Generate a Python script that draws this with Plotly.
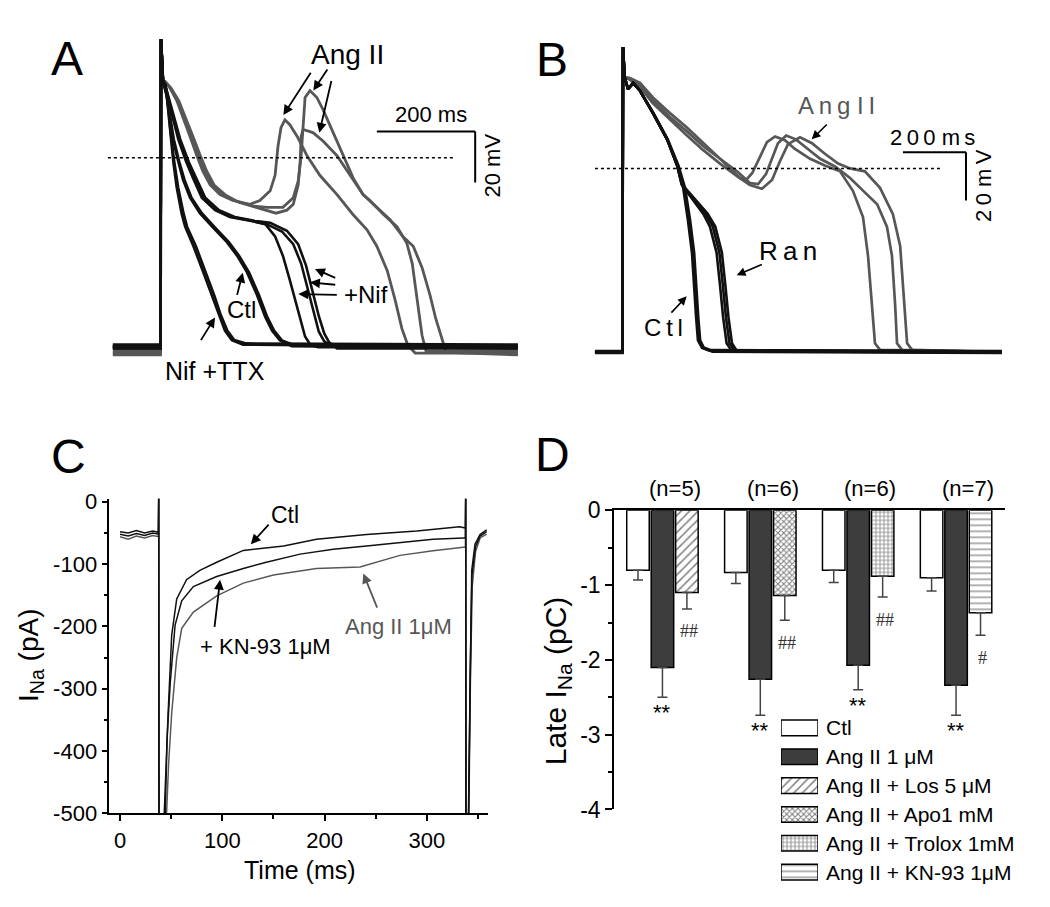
import plotly.graph_objects as go

W, H = 1050, 907
FONT = "Liberation Sans, Arial, Helvetica, sans-serif"
BLACK = "#111111"
GRAY = "#575757"

# ---------------- Panel A : action potentials (time ms, Vm mV) ----------------
a_ttx1_t = [-98, -1, 0, 4, 12, 18, 25, 32, 42, 49, 66, 86, 103, 116, 130, 144, 167, 726]
a_ttx1_v = [-74.5, -74.5, 46.6, 30.2, 23.8, 11.1, -1.6, -11.8, -22.0, -27.1, -34.8, -45.0, -53.9, -61.5, -68.0, -71.7, -73.5, -74.5]
a_ttx2_t = [-98, -1, 0, 4, 13, 19, 27, 35, 46, 53, 71, 91, 108, 121, 135, 149, 173, 726]
a_ttx2_v = [-73.5, -73.5, 46.6, 30.2, 23.8, 11.1, -1.6, -11.8, -22.0, -27.1, -34.8, -45.0, -53.9, -61.5, -68.0, -71.7, -73.0, -73.5]
a_ctl1_t = [-98, -1, 0, 4, 8, 16, 24, 35, 45, 59, 79, 106, 134, 155, 175, 195, 212, 226, 242, 266, 726]
a_ctl1_v = [-75.0, -75.0, 46.6, 30.2, 29.0, 18.7, 7.3, -1.5, -8.8, -15.7, -21.8, -27.5, -33.2, -38.6, -45.1, -53.9, -62.6, -68.0, -71.8, -74.1, -75.0]
a_ctl2_t = [-98, -1, 0, 4, 8, 17, 26, 37, 48, 62, 83, 110, 138, 159, 179, 199, 216, 230, 246, 270, 726]
a_ctl2_v = [-74.0, -74.0, 46.6, 30.2, 29.0, 18.7, 7.3, -1.5, -8.8, -15.7, -21.8, -27.5, -33.2, -38.6, -45.1, -53.9, -62.6, -68.0, -71.8, -73.6, -74.0]
a_nif1_t = [-98, -1, 0, 4, 8, 20, 35, 51, 65, 83, 110, 140, 181, 212, 232, 248, 262, 275, 285, 293, 303, 319, 726]
a_nif1_v = [-74.5, -74.5, 46.6, 30.2, 29.0, 18.7, 7.3, -1.5, -8.0, -15.7, -20.6, -23.3, -24.8, -26.0, -30.9, -38.6, -48.1, -57.7, -65.3, -70.3, -73.3, -74.5, -74.5]
a_nif2_t = [-98, -1, 0, 4, 8, 21, 37, 54, 68, 87, 114, 145, 185, 218, 246, 269, 285, 299, 311, 321, 332, 346, 726]
a_nif2_v = [-74.0, -74.0, 46.6, 30.2, 29.0, 18.7, 7.3, -1.5, -8.0, -15.7, -20.6, -23.3, -24.8, -26.4, -29.0, -34.0, -41.6, -52.0, -61.5, -68.4, -72.2, -74.0, -74.0]
a_nif3_t = [-98, -1, 0, 4, 8, 22, 39, 56, 71, 90, 118, 150, 190, 222, 256, 279, 295, 309, 321, 332, 342, 358, 726]
a_nif3_v = [-75.0, -75.0, 46.6, 30.2, 29.0, 18.7, 7.3, -1.5, -8.0, -15.7, -20.6, -23.3, -24.8, -25.6, -28.7, -34.0, -42.4, -52.7, -62.3, -69.1, -72.6, -75.0, -75.0]
a_ang1_t = [-98, -1, 0, 4, 8, 18, 32, 45, 59, 73, 85, 100, 120, 146, 181, 201, 222, 232, 238, 244, 252, 262, 277, 297, 323, 358, 390, 419, 439, 460, 476, 490, 502, 517, 726]
a_ang1_v = [-76.8, -76.8, 46.6, 30.2, 30.0, 27.5, 22.5, 16.0, 8.4, 0.8, -5.3, -10.7, -14.5, -16.8, -18.3, -16.8, -13.0, -6.9, 4.6, 11.8, 14.9, 13.0, 8.4, 0.8, -6.9, -14.5, -22.2, -28.3, -34.8, -44.3, -55.8, -67.2, -73.7, -76.8, -76.8]
a_ang2_t = [-98, -1, 0, 4, 8, 19, 34, 47, 62, 76, 89, 104, 125, 152, 188, 216, 248, 269, 279, 285, 289, 293, 303, 317, 330, 350, 370, 391, 411, 439, 466, 492, 513, 531, 547, 559, 570, 580, 726]
a_ang2_v = [-77.5, -77.5, 46.6, 30.2, 30.0, 27.5, 22.5, 16.0, 8.4, 0.8, -5.3, -10.7, -14.5, -17.0, -19.0, -19.5, -19.5, -15.7, -9.2, 0.8, 13.8, 23.7, 26.4, 23.7, 18.7, 9.9, 0.8, -8.0, -14.5, -19.5, -24.4, -31.0, -34.8, -43.2, -53.9, -63.4, -70.3, -76.5, -77.5]
a_ang3_t = [-98, -1, 0, 4, 8, 20, 36, 50, 65, 80, 93, 108, 130, 158, 195, 234, 256, 269, 279, 283, 285, 289, 309, 330, 358, 384, 411, 425, 452, 480, 500, 511, 519, 525, 531, 539, 726]
a_ang3_v = [-76.0, -76.0, 46.6, 30.2, 30.0, 27.5, 22.5, 16.0, 8.4, 0.8, -5.3, -10.7, -14.5, -17.5, -19.5, -21.8, -20.6, -18.3, -10.7, -1.5, 8.4, 11.1, 9.9, 6.5, 0.8, -6.9, -14.5, -16.8, -22.2, -27.1, -33.6, -41.6, -51.9, -61.5, -69.9, -76.0, -76.0]

# ---------------- Panel B : action potentials (time ms, Vm mV) ----------------
b_ctl1_t = [-89, -2, 0, 5, 16, 32, 54, 95, 140, 172, 191, 206, 219, 225, 232, 238, 251, 276, 1203]
b_ctl1_v = [-76.4, -76.4, 50.5, 38.0, 33.0, 35.5, 32.3, 23.0, 12.1, 1.2, -8.1, -21.4, -35.1, -48.5, -61.8, -71.5, -74.7, -75.8, -76.4]
b_ctl2_t = [-89, -2, 0, 5, 16, 32, 54, 96, 141, 174, 194, 210, 223, 229, 236, 242, 255, 280, 1203]
b_ctl2_v = [-76.0, -76.0, 50.5, 38.0, 33.0, 35.5, 32.3, 23.0, 12.1, 1.2, -8.1, -21.4, -35.1, -48.5, -61.8, -71.5, -74.5, -75.6, -76.0]
b_ctl3_t = [-89, -2, 0, 5, 16, 32, 54, 97, 142, 176, 197, 213, 226, 232, 239, 245, 258, 284, 1203]
b_ctl3_v = [-76.8, -76.8, 50.5, 38.0, 33.0, 35.5, 32.3, 23.0, 12.1, 1.2, -8.1, -21.4, -35.1, -48.5, -61.8, -71.5, -74.9, -76.2, -76.8]
b_ran1_t = [-89, -2, 0, 5, 16, 32, 54, 95, 140, 172, 186, 223, 255, 276, 297, 308, 318, 329, 345, 1203]
b_ran1_v = [-76.4, -76.4, 50.5, 38.0, 33.0, 35.5, 32.3, 23.0, 12.1, 1.2, -6.7, -13.5, -18.9, -24.2, -35.0, -48.5, -62.0, -72.7, -75.8, -76.4]
b_ran2_t = [-89, -2, 0, 5, 16, 32, 54, 95, 140, 172, 187, 228, 262, 285, 306, 317, 327, 338, 354, 1203]
b_ran2_v = [-76.2, -76.2, 50.5, 38.0, 33.0, 35.5, 32.3, 23.0, 12.1, 1.2, -6.7, -13.5, -18.9, -24.2, -35.0, -48.5, -62.0, -72.7, -75.6, -76.2]
b_ran3_t = [-89, -2, 0, 5, 16, 32, 54, 95, 140, 172, 188, 233, 269, 293, 314, 325, 335, 346, 362, 1203]
b_ran3_v = [-76.6, -76.6, 50.5, 38.0, 33.0, 35.5, 32.3, 23.0, 12.1, 1.2, -6.7, -13.5, -18.9, -24.2, -35.0, -48.5, -62.0, -72.7, -76.0, -76.6]
b_ang1_t = [-89, -2, 0, 5, 22, 54, 95, 149, 203, 254, 302, 346, 372, 391, 410, 435, 457, 483, 514, 546, 594, 641, 689, 730, 762, 778, 791, 800, 816, 1203]
b_ang1_v = [-76.4, -76.4, 50.5, 38.0, 37.6, 35.6, 29.5, 23.0, 17.0, 10.9, 4.8, -0.8, -4.0, -4.8, -2.0, 4.8, 10.9, 13.3, 11.7, 8.1, 4.0, 1.2, -1.2, -9.3, -20.2, -36.4, -56.6, -72.7, -75.5, -76.4]
b_ang2_t = [-89, -2, 0, 5, 22, 54, 95, 149, 203, 254, 308, 362, 403, 429, 454, 473, 492, 518, 549, 587, 626, 673, 721, 753, 807, 838, 854, 864, 870, 886, 1203]
b_ang2_v = [-76.4, -76.4, 50.5, 38.0, 37.2, 34.7, 28.3, 21.4, 15.4, 9.3, 4.0, -1.2, -6.1, -6.5, -2.4, 4.0, 10.5, 13.7, 12.1, 8.1, 4.0, 0.8, -4.0, -8.1, -14.9, -24.2, -36.4, -56.6, -72.7, -75.5, -76.4]
b_ang3_t = [-89, -2, 0, 5, 22, 54, 95, 149, 203, 254, 308, 362, 403, 441, 473, 499, 524, 562, 600, 641, 683, 721, 768, 816, 857, 880, 892, 902, 918, 1203]
b_ang3_v = [-76.4, -76.4, 50.5, 38.0, 36.8, 33.9, 27.1, 20.2, 13.7, 7.7, 2.0, -3.2, -6.9, -8.5, -4.8, 3.2, 10.1, 12.9, 10.5, 6.1, 2.0, 0.0, -1.2, -8.1, -19.0, -32.3, -56.6, -72.7, -75.5, -76.4]

# ---------------- Panel C : late INa (time ms, current pA) ----------------
c_ctl_t = [0, 8, 16, 24, 32, 37.5, 37.8, 38.2, 42, 43.2, 47, 50.5, 55.4, 65, 78, 94.5, 120.5, 160, 192, 241, 290, 332, 337.6, 337.9, 338.3, 340, 340.6, 342.1, 343.8, 347, 351.9, 358.4]
c_ctl_v = [-48, -50, -46, -50, -47, -49, 10, -800, -900, -500, -339, -214, -156, -125, -110, -97, -78, -71, -60, -52.5, -47, -40, -42, 10, -800, -900, -500, -266, -110, -68, -52.5, -45]
c_kn_t = [0, 8, 16, 24, 32, 37.5, 37.8, 38.2, 43, 44.2, 46, 49, 53.8, 60.3, 71.7, 94.5, 120.5, 143, 176, 208.5, 241, 273.7, 306, 335.6, 337.6, 337.9, 338.3, 340, 340.8, 342.3, 344, 347.5, 352, 358.4]
c_kn_v = [-52, -55, -51, -54, -50, -52, 10, -800, -900, -500, -380, -292, -198, -159, -136, -120, -107, -97, -84, -76, -71, -65.5, -60, -58, -58, 10, -800, -900, -500, -270, -118, -72, -55, -48]
c_ang_t = [0, 8, 16, 24, 32, 37.5, 37.8, 38.2, 44, 45.5, 47.5, 50.5, 55.4, 60.3, 71.7, 94.5, 120.5, 150, 192, 234.6, 273.7, 306, 335.6, 337.6, 337.9, 338.3, 340.2, 341, 342.5, 344.3, 347.5, 352, 358.4]
c_ang_v = [-56, -60, -55, -58, -54, -56, 10, -800, -900, -500, -420, -339, -250, -203, -177, -151, -130.5, -117.5, -107, -104.5, -86, -78.5, -73, -73, 10, -800, -900, -500, -290, -136, -80, -58, -52]
c_yticks = [0, -100, -200, -300, -400, -500]
c_yticktext = ["0", "-100", "-200", "-300", "-400", "-500"]
c_xticks = [0, 100, 200, 300]

# ---------------- Panel D : late INa charge (pC), mean and SEM ----------------
d_n_labels = ["(n=5)", "(n=6)", "(n=6)", "(n=7)"]
d_ctl_mean = [-0.80, -0.83, -0.80, -0.90]
d_ctl_err = [0.13, 0.15, 0.165, 0.18]
d_ang_mean = [-2.10, -2.26, -2.07, -2.34]
d_ang_err = [0.40, 0.48, 0.33, 0.40]
d_trt_mean = [-1.10, -1.14, -0.88, -1.37]
d_trt_err = [0.22, 0.33, 0.28, 0.30]
d_ang_sig = ["**", "**", "**", "**"]
d_trt_sig = ["##", "##", "##", "#"]
d_legend = ["Ctl", "Ang II 1 \u03bcM", "Ang II + Los 5 \u03bcM", "Ang II + Apo1 mM",
            "Ang II + Trolox 1mM", "Ang II + KN-93 1\u03bcM"]
d_yticks = [0, -1, -2, -3, -4]
d_yticktext = ["0", "-1", "-2", "-3", "-4"]

# styles for the treatment bars (Los, Apo, Trolox, KN-93)
trt_patterns = [dict(shape="/", size=6, solidity=0.25),
                dict(shape="x", size=4, solidity=0.45),
                dict(shape="+", size=4, solidity=0.35),
                dict(shape="-", size=6, solidity=0.2)]

fig = go.Figure()


def add_line(t, v, xa, ya, color, width):
    fig.add_trace(go.Scatter(x=t, y=v, mode="lines", xaxis=xa, yaxis=ya,
                             line=dict(color=color, width=width),
                             hoverinfo="skip", showlegend=False))


# Panel A traces
for t, v in [(a_ang1_t, a_ang1_v), (a_ang2_t, a_ang2_v), (a_ang3_t, a_ang3_v)]:
    add_line(t, v, "x", "y", GRAY, 2.8)
for t, v in [(a_ttx1_t, a_ttx1_v), (a_ttx2_t, a_ttx2_v), (a_ctl1_t, a_ctl1_v),
             (a_ctl2_t, a_ctl2_v), (a_nif1_t, a_nif1_v), (a_nif2_t, a_nif2_v),
             (a_nif3_t, a_nif3_v)]:
    add_line(t, v, "x", "y", BLACK, 2.6)

# Panel B traces
for t, v in [(b_ang1_t, b_ang1_v), (b_ang2_t, b_ang2_v), (b_ang3_t, b_ang3_v)]:
    add_line(t, v, "x2", "y2", GRAY, 2.7)
for t, v in [(b_ctl1_t, b_ctl1_v), (b_ctl2_t, b_ctl2_v), (b_ctl3_t, b_ctl3_v),
             (b_ran1_t, b_ran1_v), (b_ran2_t, b_ran2_v), (b_ran3_t, b_ran3_v)]:
    add_line(t, v, "x2", "y2", BLACK, 2.6)

# Panel C traces
add_line(c_ang_t, c_ang_v, "x3", "y3", GRAY, 1.5)
add_line(c_kn_t, c_kn_v, "x3", "y3", BLACK, 1.5)
add_line(c_ctl_t, c_ctl_v, "x3", "y3", BLACK, 1.5)

# Panel D bars
ng = len(d_ctl_mean)
x_ctl = [4 * i for i in range(ng)]
x_ang = [4 * i + 1 for i in range(ng)]
x_trt = [4 * i + 2 for i in range(ng)]
err_style = dict(type="data", symmetric=False, color="#444444", thickness=1.5, width=5)
fig.add_trace(go.Bar(x=x_ctl, y=d_ctl_mean, width=0.92, xaxis="x4", yaxis="y4",
                     marker=dict(color="white", line=dict(color="black", width=1.5)),
                     error_y=dict(array=[0] * ng, arrayminus=d_ctl_err, **err_style),
                     showlegend=False, hoverinfo="skip"))
fig.add_trace(go.Bar(x=x_ang, y=d_ang_mean, width=0.92, xaxis="x4", yaxis="y4",
                     marker=dict(color="#3d3d3d", line=dict(color="black", width=1.5)),
                     error_y=dict(array=[0] * ng, arrayminus=d_ang_err, **err_style),
                     showlegend=False, hoverinfo="skip"))
for i in range(ng):
    fig.add_trace(go.Bar(x=[x_trt[i]], y=[d_trt_mean[i]], width=0.92, xaxis="x4", yaxis="y4",
                         marker=dict(color="white", line=dict(color="black", width=1.5),
                                     pattern=dict(fgcolor="black", bgcolor="white", **trt_patterns[i])),
                         error_y=dict(array=[0], arrayminus=[d_trt_err[i]], **err_style),
                         showlegend=False, hoverinfo="skip"))

# legend keys (drawn as bars on a small hidden axis)
key_markers = [dict(color="white"), dict(color="#3d3d3d")] + \
              [dict(color="white", pattern=dict(fgcolor="black", bgcolor="white", **p)) for p in trt_patterns]
for i, mk in enumerate(key_markers):
    mk = dict(mk)
    mk["line"] = dict(color="black", width=1.5)
    fig.add_trace(go.Bar(y=[i], x=[1], base=0, width=0.54, orientation="h",
                         xaxis="x5", yaxis="y5", marker=mk,
                         showlegend=False, hoverinfo="skip"))

ann = []
shapes = []


def arrow(xref, yref, head, tail, color="black", width=1.8):
    ann.append(dict(x=head[0], y=head[1], ax=tail[0], ay=tail[1], xref=xref, yref=yref,
                    axref=xref, ayref=yref, text="", showarrow=True, arrowhead=2,
                    arrowsize=1.1, arrowwidth=width, arrowcolor=color, standoff=0))


def label(xref, yref, x, y, text, size, color="black", angle=0, xanchor="center", yanchor="middle",
          family=FONT):
    ann.append(dict(x=x, y=y, xref=xref, yref=yref, text=text, showarrow=False,
                    font=dict(family=family, size=size, color=color), textangle=angle,
                    xanchor=xanchor, yanchor=yanchor))


# ---- Panel A decorations
shapes.append(dict(type="line", xref="x", yref="y", x0=-108, x1=598, y0=0, y1=0,
                   line=dict(color="black", width=1.5, dash="dot")))
shapes.append(dict(type="line", xref="x", yref="y", x0=439, x1=639, y0=10.3, y1=10.3,
                   line=dict(color="black", width=2)))
shapes.append(dict(type="line", xref="x", yref="y", x0=639, x1=639, y0=10.3, y1=-9.7,
                   line=dict(color="black", width=2)))
label("x", "y", 549, 17.2, "200 ms", 22)
label("x", "y", 675, -3.1, "20 mV", 22, angle=-90)
label("x", "y", 380, 40.5, "Ang II", 28)
arrow("x", "y", (248.8, 16.8), (306.5, 34.0))
arrow("x", "y", (309.8, 26.4), (340.3, 35.3))
arrow("x", "y", (322.0, 9.8), (347.2, 30.8))
label("x", "y", 164, -59.6, "Ctl", 24)
arrow("x", "y", (166.2, -45.2), (154.0, -54.5))
label("x", "y", 416, -53.9, "+Nif", 24)
arrow("x", "y", (313.2, -43.7), (357.4, -47.5))
arrow("x", "y", (303.1, -49.0), (357.4, -50.0))
arrow("x", "y", (279.3, -53.6), (360.6, -53.9))
label("x", "y", 110, -83.7, "Nif +TTX", 25)
arrow("x", "y", (109.8, -62.8), (79.3, -72.3))

# ---- Panel B decorations
TS = "\u2009"
shapes.append(dict(type="line", xref="x2", yref="y2", x0=-89, x1=1012, y0=0, y1=0,
                   line=dict(color="black", width=1.5, dash="dot")))
shapes.append(dict(type="line", xref="x2", yref="y2", x0=889, x1=1089, y0=6.7, y1=6.7,
                   line=dict(color="black", width=2)))
shapes.append(dict(type="line", xref="x2", yref="y2", x0=1089, x1=1089, y0=6.7, y1=-13.3,
                   line=dict(color="black", width=2)))
label("x2", "y2", 984, 12.8, TS.join("200") + " " + TS.join("ms"), 22)
label("x2", "y2", 1143, -6.9, TS.join("20") + " " + TS.join("mV"), 22, angle=-90)
label("x2", "y2", 678, 26.3, TS.join("Ang") + " " + TS.join("II"), 24, color=GRAY)
arrow("x2", "y2", (599.1, 12.1), (651.8, 18.9), width=1.6)
label("x2", "y2", 525, -34.3, TS.join("Ran"), 26)
arrow("x2", "y2", (361.0, -44.4), (445.5, -39.7), width=1.6)
label("x2", "y2", 128, -66.0, TS.join("Ctl"), 24)
arrow("x2", "y2", (202.2, -53.2), (149.2, -60.6), width=1.6)

# ---- Panel C decorations
label("x3", "y3", 161, -21.4, "Ctl", 23)
arrow("x3", "y3", (127.8, -68.2), (146.6, -34.3))
label("x3", "y3", 142, -232, "+ KN-93 1\u03bcM", 22)
arrow("x3", "y3", (97.8, -125.3), (92.2, -203.3))
label("x3", "y3", 272, -200.7, "Ang II 1\u03bcM", 22, color=GRAY)
arrow("x3", "y3", (237.8, -115.0), (251.9, -172.1), color=GRAY)
label("paper", "paper", 300 / W, 1 - 882 / H, "Time (ms)", 25)
label("paper", "paper", 30 / W, 1 - 661 / H, "I<sub>Na</sub> (pA)", 28, angle=-90)

# ---- Panel D decorations
for i in range(ng):
    ann.append(dict(x=x_ang[i], y=d_ang_mean[i] - d_ang_err[i], xref="x4", yref="y4",
                    text=d_ang_sig[i], showarrow=False, yanchor="top", yshift=-1,
                    font=dict(family=FONT, size=22, color="black")))
    ann.append(dict(x=x_trt[i] + 0.1, y=d_trt_mean[i] - d_trt_err[i] - 0.3, xref="x4", yref="y4",
                    text=d_trt_sig[i], showarrow=False, yanchor="middle",
                    font=dict(family="Liberation Serif, Times New Roman, serif", size=18, color="#333333")))
    ann.append(dict(x=x_ang[i] + 0.5, y=0, xref="x4", yref="y4", text=d_n_labels[i],
                    showarrow=False, yanchor="bottom", yshift=7,
                    font=dict(family=FONT, size=22, color="black")))
# legend labels, one row every 29.7 px starting at y = 736 px
for i, name in enumerate(d_legend):
    label("paper", "paper", 824 / W, 1 - (736 + 29.7 * i) / H, name, 21, xanchor="left")
label("paper", "paper", 557 / W, 1 - 688 / H, "Late I<sub>Na</sub> (pC)", 30, angle=-90)

# panel letters
for txt, px, py in [("A", 67, 47), ("B", 552, 48), ("C", 68, 457), ("D", 552, 455)]:
    label("paper", "paper", px / W, 1 - py / H, txt, 48)

hidden = dict(visible=False, showgrid=False, zeroline=False, fixedrange=True)
axis_common = dict(showgrid=False, zeroline=False, showline=True, linecolor="black", linewidth=1.5,
                   ticks="outside", tickwidth=1.5, tickcolor="black",
                   tickfont=dict(family=FONT, size=22, color="black"))

fig.update_layout(
    width=W, height=H, margin=dict(l=0, r=0, t=0, b=0),
    paper_bgcolor="white", plot_bgcolor="rgba(0,0,0,0)",
    showlegend=False, barmode="overlay", font=dict(family=FONT, color="black"),
    xaxis=dict(domain=[100 / W, 530 / W], range=[-124.1, 750.5], anchor="y", **hidden),
    yaxis=dict(domain=[1 - 370 / H, 1 - 10 / H], range=[-84.4, 53.1], anchor="x", **hidden),
    xaxis2=dict(domain=[560 / W, 1040 / W], range=[-200, 1324], anchor="y2", **hidden),
    yaxis2=dict(domain=[1 - 370 / H, 1 - 10 / H], range=[-84.84, 60.6], anchor="x2", **hidden),
    xaxis3=dict(domain=[109.3 / W, 488.3 / W], range=[-10.5, 360], anchor="y3",
                tickvals=c_xticks, ticklen=6,
                minor=dict(tickvals=[50, 150, 250, 350], ticks="outside", ticklen=4,
                           tickwidth=1.5, tickcolor="black"),
                **axis_common),
    yaxis3=dict(domain=[1 - 824 / H, 1 - 500 / H], range=[-500, 5], anchor="x3",
                tickvals=c_yticks, ticktext=c_yticktext, ticklen=6,
                minor=dict(tickvals=[-50, -150, -250, -350, -450], ticks="outside", ticklen=4,
                           tickwidth=1.5, tickcolor="black"),
                **axis_common),
    xaxis4=dict(domain=[614 / W, 1005 / W], range=[-0.98, 15.0], anchor="y4", side="top",
                showgrid=False, zeroline=False, showline=True, linecolor="black", linewidth=1.5,
                ticks="", showticklabels=False),
    yaxis4=dict(domain=[1 - 820 / H, 1 - 512 / H], range=[-4, 0], anchor="x4",
                tickvals=d_yticks, ticktext=d_yticktext, ticklen=7,
                minor=dict(tickvals=[-0.5, -1.5, -2.5, -3.5], ticks="outside", ticklen=4,
                           tickwidth=1.5, tickcolor="black"),
                **{**axis_common, "tickfont": dict(family=FONT, size=23, color="black")}),
    xaxis5=dict(domain=[781 / W, 818 / W], range=[0, 1], anchor="y5", **hidden),
    yaxis5=dict(domain=[1 - 900 / H, 1 - 720 / H], range=[5.522, -0.539], anchor="x5", **hidden),
    annotations=ann, shapes=shapes,
)

fig.write_html("out.html", config=dict(displayModeBar=False),
               post_script="document.body.style.margin='0';document.body.style.padding='0';")
